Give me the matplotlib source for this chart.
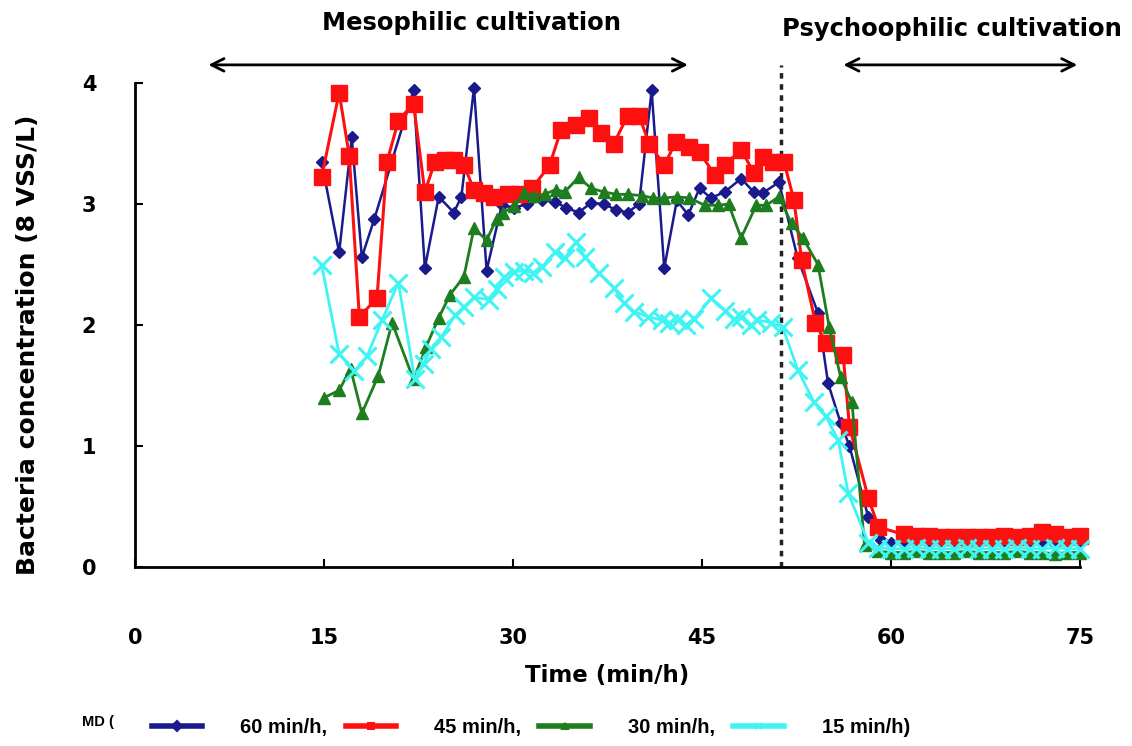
import matplotlib
matplotlib.use("Agg")
import matplotlib.pyplot as plt
from matplotlib.lines import Line2D

plt.rcParams['font.family'] = ['DejaVu Sans']
plt.rcParams['font.weight'] = 'bold'

# 60 min/h
x60 = [14.8, 16.2, 17.2, 18.0, 19.0, 22.1, 23.0, 24.1, 25.3, 25.9, 26.9, 27.9, 29.1, 30.1,
       31.1, 32.3, 33.3, 34.2, 35.2, 36.2, 37.2, 38.2, 39.1, 40.0, 41.0, 42.0, 43.0, 43.9,
       44.8, 45.7, 46.8, 48.1, 49.1, 49.8, 51.1, 52.6, 54.2, 55.0, 56.0, 56.7, 58.2, 59.2,
       60, 61, 62, 63, 64, 65, 66, 67, 68, 69, 70, 71, 72, 73, 74, 75]
y60 = [3.35, 2.60, 3.55, 2.56, 2.88, 3.94, 2.47, 3.06, 2.93, 3.06, 3.96, 2.45, 2.99, 2.97,
       3.00, 3.03, 3.02, 2.97, 2.93, 3.01, 3.00, 2.95, 2.93, 3.00, 3.94, 2.47, 3.03, 2.91,
       3.13, 3.05, 3.10, 3.21, 3.10, 3.09, 3.18, 2.55, 2.10, 1.52, 1.19, 1.00, 0.41, 0.22,
       0.20, 0.19, 0.20, 0.19, 0.20, 0.20, 0.19, 0.20, 0.20, 0.19, 0.20, 0.21, 0.20, 0.19, 0.20, 0.20]

# 45 min/h
x45 = [14.8, 16.2, 17.0, 17.8, 19.2, 20.0, 20.9, 22.1, 23.0, 23.8, 24.6, 25.3, 26.1, 26.9,
       27.7, 28.5, 29.6, 30.5, 31.5, 32.9, 33.8, 35.0, 36.0, 37.0, 38.0, 39.1, 40.0, 40.8,
       42.0, 42.9, 44.0, 44.8, 46.0, 46.8, 48.1, 49.1, 49.8, 50.6, 51.5, 52.3, 52.9, 54.0,
       54.8, 56.2, 56.7, 58.2, 59.0, 61, 62, 63, 64, 65, 66, 67, 68, 69, 70, 71, 72, 73, 74, 75]
y45 = [3.22, 3.92, 3.40, 2.07, 2.22, 3.35, 3.69, 3.83, 3.10, 3.35, 3.36, 3.36, 3.32, 3.12,
       3.09, 3.06, 3.08, 3.08, 3.13, 3.32, 3.61, 3.65, 3.71, 3.59, 3.50, 3.73, 3.73, 3.50,
       3.32, 3.51, 3.47, 3.43, 3.24, 3.32, 3.45, 3.26, 3.39, 3.35, 3.35, 3.03, 2.54, 2.02,
       1.85, 1.75, 1.16, 0.57, 0.33, 0.27, 0.26, 0.26, 0.25, 0.25, 0.25, 0.25, 0.25, 0.26,
       0.25, 0.26, 0.29, 0.27, 0.25, 0.26]

# 30 min/h
x30 = [15.0, 16.2, 17.1, 18.0, 19.3, 20.4, 22.1, 23.1, 24.1, 25.0, 26.1, 26.9, 27.9, 28.7,
       29.2, 30.1, 30.9, 31.7, 32.5, 33.4, 34.1, 35.2, 36.2, 37.2, 38.2, 39.1, 40.2, 41.1,
       42.0, 43.0, 44.0, 45.2, 46.3, 47.1, 48.1, 49.3, 50.1, 51.1, 52.1, 53.0, 54.2, 55.1,
       56.0, 56.9, 57.9, 59, 60, 61, 62, 63, 64, 65, 66, 67, 68, 69, 70, 71, 72, 73, 74, 75]
y30 = [1.40, 1.46, 1.64, 1.27, 1.58, 2.02, 1.55, 1.82, 2.06, 2.25, 2.40, 2.80, 2.70, 2.88,
       2.93, 2.98, 3.09, 3.07, 3.08, 3.12, 3.10, 3.22, 3.13, 3.10, 3.08, 3.08, 3.07, 3.05,
       3.05, 3.06, 3.05, 2.99, 2.99, 3.00, 2.72, 2.99, 2.99, 3.06, 2.84, 2.72, 2.50, 1.98,
       1.57, 1.36, 0.18, 0.13, 0.12, 0.12, 0.13, 0.12, 0.12, 0.12, 0.13, 0.12, 0.12, 0.12,
       0.13, 0.12, 0.12, 0.11, 0.12, 0.12]

# 15 min/h
x15 = [14.8, 16.2, 17.4, 18.4, 19.6, 20.9, 22.2, 22.9, 23.5, 24.3, 25.4, 26.1, 26.9, 28.1,
       28.7, 29.3, 30.1, 30.9, 31.6, 32.3, 33.3, 34.1, 35.0, 35.7, 36.8, 38.0, 38.8, 39.6,
       40.7, 41.8, 42.4, 43.1, 43.7, 44.4, 45.7, 46.8, 47.5, 48.1, 48.9, 49.4, 50.5, 51.4,
       52.6, 53.9, 54.8, 55.8, 56.6, 58.2, 59, 60, 61, 62, 63, 64, 65, 66, 67, 68, 69, 70,
       71, 72, 73, 74, 75]
y15 = [2.50, 1.76, 1.62, 1.74, 2.04, 2.35, 1.55, 1.68, 1.80, 1.90, 2.08, 2.15, 2.23, 2.21,
       2.30, 2.40, 2.44, 2.45, 2.43, 2.48, 2.60, 2.55, 2.69, 2.56, 2.43, 2.31, 2.18, 2.11,
       2.07, 2.04, 2.02, 2.04, 2.00, 2.05, 2.22, 2.12, 2.05, 2.07, 2.00, 2.04, 2.02, 1.98,
       1.63, 1.36, 1.25, 1.05, 0.61, 0.20, 0.16, 0.15, 0.15, 0.16, 0.15, 0.15, 0.15, 0.16,
       0.15, 0.15, 0.15, 0.16, 0.15, 0.15, 0.16, 0.15, 0.15]

labels = ['60 min/h,', '45 min/h,', '30 min/h,', '15 min/h)']
colors = ['#1a1a8c', '#ff1010', '#1e7d1e', '#40f4f4']
markers = ['D', 's', '^', 'x']

fig = plt.figure(figsize=(11.32, 7.46), dpi=100)
ax = fig.add_axes([0.1193, 0.2399, 0.8348, 0.6488])

ax.plot(x60, y60, color=colors[0], marker='D', ms=6, lw=1.8, clip_on=False, zorder=3)
ax.plot(x45, y45, color=colors[1], marker='s', ms=11, lw=2.2, clip_on=False, zorder=4)
ax.plot(x30, y30, color=colors[2], marker='^', ms=9, lw=2.0, clip_on=False, zorder=5)
ax.plot(x15, y15, color=colors[3], marker='x', ms=13, mew=2.2, lw=2.0, clip_on=False, zorder=6)

ax.set_xlim(0, 75)
ax.set_ylim(0, 4)
ax.set_xticks([0, 15, 30, 45, 60, 75])
ax.set_yticks([0, 1, 2, 3, 4])
for s in ['top', 'right']:
    ax.spines[s].set_visible(False)
for s in ['left', 'bottom']:
    ax.spines[s].set_linewidth(2)
ax.tick_params(axis='both', direction='in', length=6, width=1.5, labelsize=15)
ax.tick_params(axis='x', pad=44)
ax.tick_params(axis='y', pad=28)
for lab in ax.get_xticklabels() + ax.get_yticklabels():
    lab.set_fontweight('bold')

# dashed line between the two phases
ax.plot([51.3, 51.3], [0, 4.15], color='#222222', lw=2.5, ls=(0, (1.6, 1.6)), clip_on=False, zorder=2)

# phase arrows
arr = dict(arrowstyle='<->,head_length=0.9,head_width=0.45', lw=2, color='black')
ax.annotate('', xy=(5.6, 4.15), xytext=(44.1, 4.15), arrowprops=arr, annotation_clip=False)
ax.annotate('', xy=(56.0, 4.15), xytext=(75.0, 4.15), arrowprops=arr, annotation_clip=False)
ax.text(26.7, 4.5, 'Mesophilic cultivation', ha='center', va='center', fontsize=17.5,
        fontweight='bold', clip_on=False)
ax.text(64.8, 4.45, 'Psychoophilic cultivation', ha='center', va='center', fontsize=17.5,
        fontweight='bold', clip_on=False)

fig.text(0.025, 0.5375, 'Bacteria concentration (8 VSS/L)', rotation=90, ha='center',
         va='center', fontsize=18, fontweight='bold')
fig.text(0.536, 0.094, 'Time (min/h)', ha='center', va='center', fontsize=16.5, fontweight='bold')

fig.text(0.072, 0.032, 'MD (', ha='left', va='center', fontsize=10.5, fontweight='bold',
         family=['Liberation Sans', 'DejaVu Sans'])
handles = [Line2D([], [], color=c, lw=4, marker=m, ms=5, mew=1.5) for c, m in zip(colors, markers)]
fig.legend(handles, labels, loc='center left', bbox_to_anchor=(0.134, 0.025), ncol=4,
           frameon=False, borderpad=0, borderaxespad=0,
           handlelength=2.5, handletextpad=1.9, columnspacing=0.9,
           prop={'size': 14.5, 'weight': 'bold', 'family': ['Liberation Sans', 'DejaVu Sans']})

fig.savefig('out.png', dpi=100)
